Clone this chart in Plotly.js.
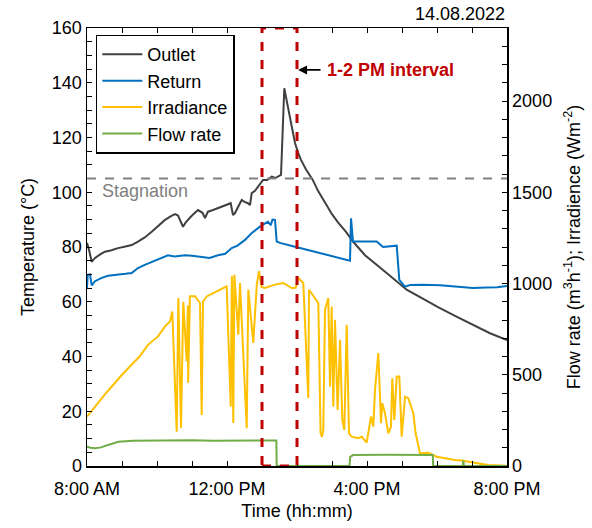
<!DOCTYPE html>
<html>
<head>
<meta charset="utf-8">
<script src="https://cdn.plot.ly/plotly-3.0.1.min.js"></script>
<style>html,body{margin:0;padding:0;background:#fff}#chart{width:592px;height:528px}</style>
</head>
<body>
<div id="chart"></div>
<script>
// Time in decimal hours
const outletT = [8.0,8.057,8.134,8.229,8.4,8.514,8.7,8.886,9.1,9.277,9.457,9.65,9.849,10.05,10.229,10.4,10.514,10.6,10.657,10.743,10.82,10.886,11.0,11.171,11.3,11.371,11.457,11.6,11.743,11.943,12.106,12.171,12.229,12.33,12.42,12.5,12.6,12.657,12.706,12.8,12.886,13.029,13.15,13.277,13.38,13.457,13.543,13.637,13.69,13.743,13.85,13.943,14.03,14.114,14.25,14.371,14.45,14.6,14.8,15.0,15.171,15.4,15.6,15.943,16.371,16.743,17.143,17.543,18.029,18.571,19.086,19.514,20.0];
const outletV = [81.5,79,74.6,76,77.5,78.3,78.8,79.6,80.2,80.7,82,83.5,85.6,88,89.9,91.3,92,91.5,89.9,87.4,89,90,91.5,93.5,92.5,90.6,92.9,93.5,94.2,95.3,96,91.7,92.4,95,97.2,96.5,96,95.3,99.7,100.5,102,104.5,104.5,105.7,105.2,105.7,106.3,138,134,131,124,118,114.5,111.8,108.5,106,104.5,100.5,96,92,89,85.5,82,77,72.5,68.5,64.3,61.5,58,54.5,51.3,48.5,46];

const returnT = [8.0,8.02,8.086,8.134,8.229,8.42,8.6,8.886,9.1,9.277,9.457,9.65,9.849,10.1,10.314,10.5,10.8,11.0,11.277,11.5,11.743,11.95,12.134,12.3,12.514,12.7,12.886,13.0,13.171,13.25,13.3,13.371,13.42,13.514,13.943,15.514,15.543,15.6,16.277,16.457,16.849,16.923,17.086,17.229,17.6,18.086,18.6,19.029,19.4,19.714,20.0];
const returnV = [65,69.8,70,66,67.5,68.7,69.5,69.8,70.2,70.5,72.3,73.5,74.6,76,77,76.5,77,76.8,76.5,76,77,77.5,79.6,80.5,82.6,85,86.9,88,89.2,88,90,89.9,82,81.5,80.1,75,90.5,82,82,80,80.5,68,65.5,66.1,66.2,66,65.5,65,65.2,65.3,65.8];

const irrT = [8.0,8.5,9.0,9.5,9.743,10.029,10.229,10.371,10.437,10.494,10.563,10.609,10.686,10.751,10.849,10.88,10.89,10.94,11.086,11.229,11.277,11.314,11.42,11.706,11.991,12.106,12.14,12.18,12.21,12.323,12.371,12.563,12.609,12.751,12.849,12.914,12.991,13.086,13.371,13.609,13.849,13.963,14.037,14.18,14.277,14.323,14.343,14.466,14.609,14.674,14.714,14.751,14.8,14.894,14.943,14.991,15.037,15.086,15.16,15.229,15.294,15.351,15.42,15.486,15.563,15.751,15.849,15.991,16.114,16.18,16.229,16.323,16.371,16.4,16.437,16.514,16.609,16.686,16.723,16.78,16.849,16.923,16.991,17.086,17.18,17.323,17.389,17.466,17.514,17.751,17.991,18.514,18.706,18.943,19.18,19.466,19.991];
const irrV = [270,390,500,600,664,710,765,792,847,554,188,920,209,900,573,880,456,930,930,893,280,900,929,957,984,326,1039,236,1048,719,1003,207,966,674,990,1067,980,975,994,1003,975,977,1030,1003,609,372,966,929,893,179,160,198,856,920,435,874,326,801,307,692,252,198,774,179,161,152,161,128,271,216,417,619,399,234,344,289,179,216,481,252,490,490,161,380,372,289,179,106,70,73,51,33,30,22,15,5,2];

const flowT = [8.0,8.1,8.23,8.4,8.6,8.9,9.3,9.8,10.4,11.0,11.6,12.2,12.8,13.41,13.42,15.5,15.52,15.6,16.5,17.88,17.89,18.74,18.75,18.77,20.0];
const flowV = [106,100,97,102,115,133,138,140,139,141,139,140,141,140,0,0,50,60,61,60,0,0,30,0,0];

const xTickVals = [8,12,16,20];
const xTickText = ['8:00 AM','12:00 PM','4:00 PM','8:00 PM'];

const FONT = 'Liberation Sans, Arial, sans-serif';
const traces = [
  {x: outletT, y: outletV, name: 'Outlet', mode: 'lines', line: {color: '#404040', width: 2}, yaxis: 'y'},
  {x: returnT, y: returnV, name: 'Return', mode: 'lines', line: {color: '#0070C0', width: 2}, yaxis: 'y'},
  {x: irrT, y: irrV, name: 'Irradiance', mode: 'lines', line: {color: '#FFC000', width: 2}, yaxis: 'y2'},
  {x: flowT, y: flowV, name: 'Flow rate', mode: 'lines', line: {color: '#70AD47', width: 2}, yaxis: 'y2'}
];

const layout = {
  width: 592, height: 528,
  margin: {l: 87, r: 85, t: 28, b: 62},
  paper_bgcolor: '#fff', plot_bgcolor: '#fff',
  font: {family: FONT, size: 18, color: '#000'},
  showlegend: true,
  legend: {x: 0.021, y: 0.985, xanchor: 'left', yanchor: 'top', bgcolor: '#fff', bordercolor: '#000', borderwidth: 1.5, itemwidth: 40, font: {size: 18}},
  xaxis: {
    range: [8, 20], tickmode: 'array', tickvals: xTickVals, ticktext: xTickText,
    ticks: 'inside', ticklen: 5, tickcolor: '#000', showline: true, linecolor: '#000', linewidth: 1.5,
    mirror: 'ticks', showgrid: false, zeroline: false, ticklabelstandoff: 6,
    minor: {dtick: 1, tick0: 8, ticks: 'inside', ticklen: 5, tickcolor: '#000', showgrid: false},
    title: {text: 'Time (hh:mm)', font: {size: 18}, standoff: 6}
  },
  yaxis: {
    range: [0, 160], dtick: 20, ticks: 'inside', ticklen: 5, tickcolor: '#000',
    showline: true, linecolor: '#000', linewidth: 1.5, showgrid: false, zeroline: false,
    minor: {dtick: 5, ticks: 'inside', ticklen: 5, tickcolor: '#000', showgrid: false},
    title: {text: 'Temperature (°C)', font: {size: 18}, standoff: 12}
  },
  yaxis2: {
    range: [0, 2400], overlaying: 'y', side: 'right', tickvals: [0,500,1000,1500,2000],
    ticks: 'inside', ticklen: 5, tickcolor: '#000', showline: true, linecolor: '#000', linewidth: 1.5,
    showgrid: false, zeroline: false,
    minor: {dtick: 100, tick0: 0, ticks: 'inside', ticklen: 5, tickcolor: '#000', showgrid: false},
    title: {text: 'Flow rate (m<sup>3</sup>h<sup>-1</sup>); Irradience (Wm<sup>-2</sup>)', font: {size: 18}, standoff: 16}
  },
  shapes: [
    {type: 'line', xref: 'x', yref: 'y', x0: 8, x1: 20, y0: 105, y1: 105, line: {color: '#808080', width: 2, dash: 'dash'}, layer: 'above'},
    {type: 'rect', xref: 'x', yref: 'y', x0: 13, x1: 14, y0: 0, y1: 160, line: {color: '#C00000', width: 3, dash: 'dash'}, fillcolor: 'rgba(0,0,0,0)', layer: 'above'}
  ],
  annotations: [
    {xref: 'x', yref: 'y', x: 8.37, y: 100.3, text: 'Stagnation', showarrow: false, xanchor: 'left', yanchor: 'middle', font: {size: 18, color: '#808080'}},
    {xref: 'x', yref: 'y', x: 14.03, y: 144.7, text: '', showarrow: true, ax: 24, ay: 0, arrowhead: 2, arrowsize: 1, arrowwidth: 1.8, arrowcolor: '#000'},
    {xref: 'x', yref: 'y', x: 14.8, y: 144.7, text: '<b>1-2 PM interval</b>', showarrow: false, xanchor: 'left', yanchor: 'middle', font: {size: 18, color: '#C00000'}},
    {xref: 'paper', yref: 'paper', x: 1, y: 1, yshift: 2, text: '14.08.2022', showarrow: false, xanchor: 'right', yanchor: 'bottom', font: {size: 18, color: '#000'}}
  ]
};

Plotly.newPlot('chart', traces, layout, {displayModeBar: false, staticPlot: true});
</script>
</body>
</html>
